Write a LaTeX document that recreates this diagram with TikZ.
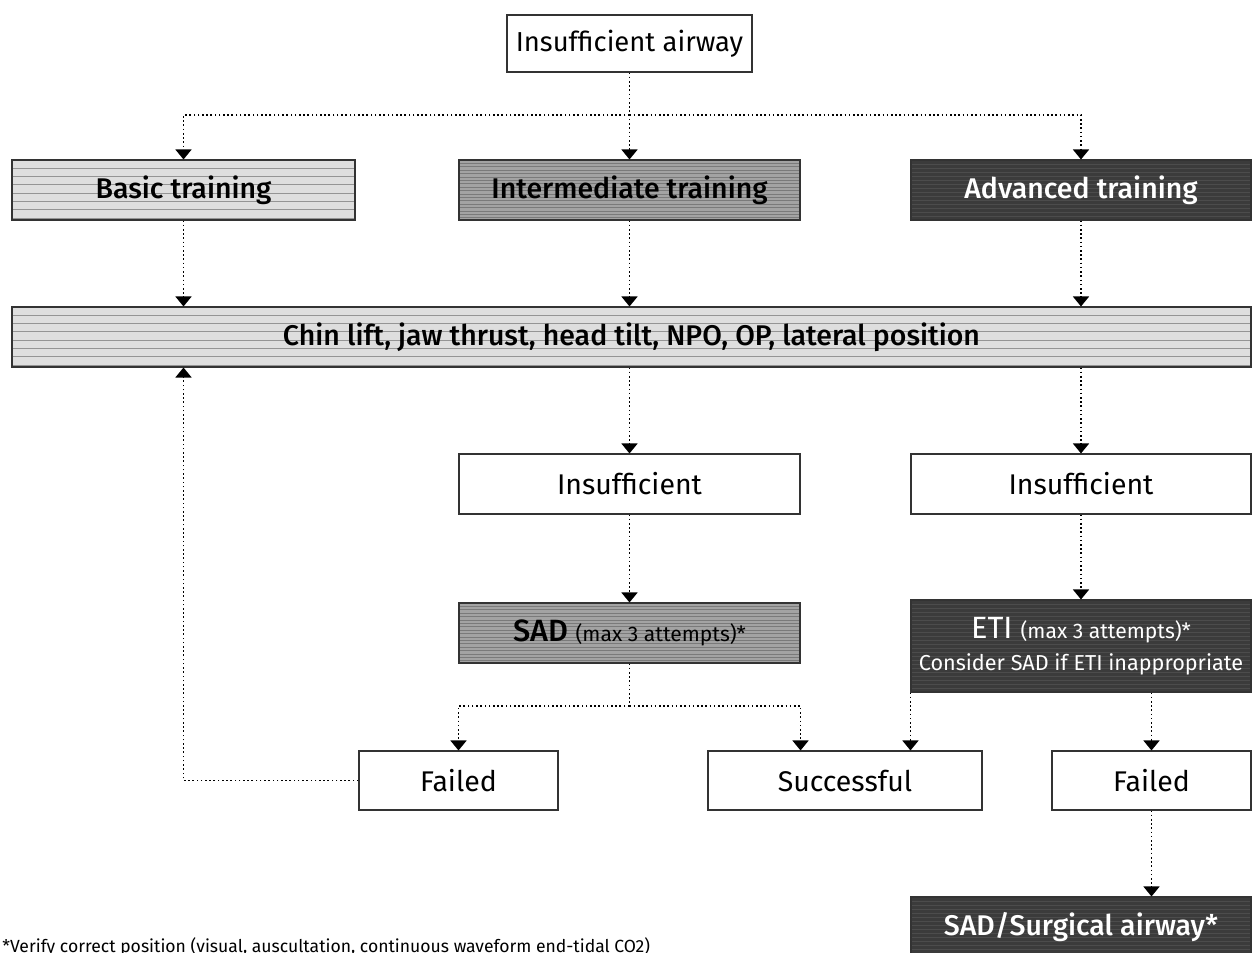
\documentclass[tikz,border=0pt]{standalone}
\usepackage{fontspec}
\setmainfont{Fira Sans}[BoldFont={Fira Sans Medium}]
\usepackage{tikz}
\usetikzlibrary{calc,arrows.meta}

\tikzset{
  striped/.style n args={3}{fill=#1,
    path picture={\foreach \i in {1,...,60} {\draw[#2,line width=0.5pt] ($(path picture bounding box.north west)+(0,-\i*#3)$) -- ($(path picture bounding box.north east)+(0,-\i*#3)$);}}},
  box/.style={draw=black!80,line width=0.6pt,minimum height=1.2cm,minimum width=6.82cm,inner sep=0pt,align=center,font=\fontsize{16.2}{19}\selectfont},
  plain/.style={box,fill=white},
  light/.style={box,striped={black!13}{black!42}{0.166},font=\fontsize{16.2}{19}\selectfont\bfseries},
  mid/.style={box,striped={black!36}{black!52}{0.068},font=\fontsize{16.2}{19}\selectfont\bfseries},
  dark/.style={box,striped={black!77}{black!70}{0.08},text=white,font=\fontsize{16.2}{19}\selectfont\bfseries},
  line/.style={line width=0.9pt,dash pattern=on 0.9pt off 1.5pt},
  link/.style={line,-{Triangle[width=0.32cm,length=0.2cm]}}
}

\begin{document}
\begin{tikzpicture}
    \useasboundingbox (0,0) rectangle (25.1,-19.06);
    \node (top) [plain,minimum width=4.9cm,minimum height=1.14cm,font=\fontsize{15.6}{18}\selectfont] at (12.59,-0.87) {Insufficient airway};
    \node (basic) [light,minimum width=6.86cm] at (3.67,-3.8) {Basic training};
    \node (inter) [mid] at (12.59,-3.8) {Intermediate training};
    \node (adv) [dark,minimum width=6.8cm] at (21.62,-3.8) {Advanced training};
    \node (chin) [light,minimum width=24.78cm] at (12.63,-6.74) {Chin lift, jaw thrust, head tilt, NPO, OP, lateral position};
    \node (ins1) [plain] at (12.59,-9.68) {Insufficient};
    \node (ins2) [plain,minimum width=6.8cm] at (21.62,-9.68) {Insufficient};
    \node (sad) [mid] at (12.59,-12.66) {\fontsize{17.5}{20}\selectfont SAD \mdseries\fontsize{12}{14}\selectfont(max 3 attempts)*};
    \node (eti) [dark,minimum width=6.8cm,minimum height=1.84cm] at (21.62,-12.92) {{\fontsize{17.5}{20}\selectfont\mdseries ETI \fontsize{12}{14}\selectfont(max 3 attempts)*}\\[-1pt]{\mdseries\fontsize{12.3}{14}\selectfont Consider SAD if ETI inappropriate}};
    \node (fail1) [plain,minimum width=3.98cm,minimum height=1.18cm] at (9.17,-15.61) {Failed};
    \node (succ) [plain,minimum width=5.48cm,minimum height=1.18cm] at (16.9,-15.61) {Successful};
    \node (fail2) [plain,minimum width=3.98cm,minimum height=1.18cm] at (23.03,-15.61) {Failed};
    \node (surg) [dark,minimum width=6.8cm] at (21.62,-18.54) {SAD/Surgical airway*};
    \node (note) [anchor=base west,inner sep=0pt,font=\fontsize{10}{12}\selectfont] at (0.04,-19.05) {*Verify correct position (visual, auscultation, continuous waveform end-tidal CO2)};
    \coordinate (split1) at (12.59,-2.3);
    \coordinate (split2) at (12.59,-14.12);
    \draw[link] (top) -- (inter);
    \draw[link] (split1) -| (basic.north);
    \draw[link] (split1) -| (adv.north);
    \foreach \n in {basic,inter,adv} {\draw[link] (\n.south) -- (\n.south |- chin.north);}
    \foreach \n in {ins1,ins2} {\draw[link] (\n.north |- chin.south) -- (\n.north);}
    \draw[link] (ins1) -- (sad);
    \draw[link] (ins2) -- (eti);
    \draw[line] (sad.south) -- (split2);
    \draw[link] (split2) -| (fail1.north);
    \draw[link] (split2) -| (sad.south east |- succ.north);
    \draw[link] (eti.south west) -- (eti.south west |- succ.north);
    \draw[link] (fail2.north |- eti.south) -- (fail2.north);
    \draw[link] (fail1.west) -| (basic.south |- chin.south);
    \draw[link] (fail2.south) -- (fail2.south |- surg.north);
\end{tikzpicture}
\end{document}
